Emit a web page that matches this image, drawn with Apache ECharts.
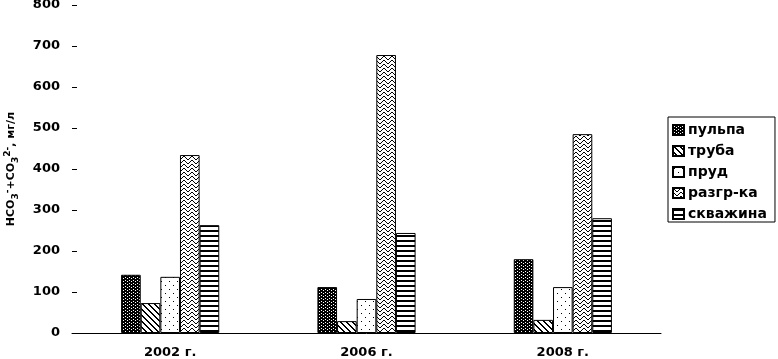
<!DOCTYPE html>
<html><head><meta charset="utf-8">
<script src="https://cdn.jsdelivr.net/npm/echarts@6/dist/echarts.min.js"></script>
<style>html,body{margin:0;padding:0;background:#fff}#c{width:778px;height:359px}</style>
</head><body><div id="c"></div>
<script>
const categories = ['2002 г.', '2006 г.', '2008 г.'];
const seriesNames = ['пульпа', 'труба', 'пруд', 'разгр-ка', 'скважина'];
const pulpa = [142, 112, 180];
const truba = [73, 29, 32];
const prud = [137, 83, 112];
const razgr = [434, 678, 485];
const skvazhina = [263, 244, 280];
const yTicks = [0, 100, 200, 300, 400, 500, 600, 700, 800];

function tile(w, h, draw) {
  const c = document.createElement('canvas');
  c.width = w; c.height = h;
  const g = c.getContext('2d');
  g.fillStyle = '#fff'; g.fillRect(0, 0, w, h);
  g.fillStyle = '#000';
  draw(g);
  return c;
}
const px = (g, x, y) => g.fillRect(x, y, 1, 1);
const patPulpa = tile(4, 3, g => {
  g.fillRect(0, 0, 4, 3);
  g.fillStyle = '#fff';
  px(g, 1, 1); px(g, 3, 2);
});
const patTruba = tile(6, 6, g => {
  for (let i = 0; i < 6; i++) { px(g, i, i); px(g, (i + 1) % 6, i); }
});
const patPrud = tile(8, 8, g => {
  px(g, 1, 1); px(g, 5, 5);
});
const patRazgr = tile(8, 8, g => {
  for (let i = 0; i < 4; i++) { px(g, i, i); px(g, 7 - i, i); px(g, i, i + 4); px(g, 7 - i, i + 4); }
  px(g, 4, 3); px(g, 3, 7);
});
const patSkv = tile(4, 5, g => {
  g.fillRect(0, 0, 4, 2);
});
const pats = [patPulpa, patTruba, patPrud, patRazgr, patSkv];
const data = [pulpa, truba, prud, razgr, skvazhina];
const FONT = 'DejaVu Sans, Verdana, sans-serif';

const chart = echarts.init(document.getElementById('c'));
chart.setOption({
  animation: false,
  textStyle: { fontFamily: FONT },
  grid: { left: 72, right: 117, top: 5, bottom: 26, outerBoundsMode: 'none', containLabel: false },
  legend: {
    orient: 'vertical', left: 668, top: 117,
    data: seriesNames,
    itemWidth: 11, itemHeight: 10, itemGap: 7,
    borderColor: '#000', borderWidth: 1, padding: [6, 8, 1, 4],
    textStyle: { fontFamily: FONT, fontSize: 14, fontWeight: 'bold', color: '#000', padding: [0, 0, 0, -1] },
    icon: 'rect'
  },
  xAxis: {
    type: 'category', data: categories,
    axisLine: { lineStyle: { color: '#000', width: 1 } },
    axisTick: { show: false },
    axisLabel: { fontFamily: FONT, color: '#000', fontSize: 13, fontWeight: 'bold', margin: 13 }
  },
  yAxis: {
    type: 'value', min: yTicks[0], max: yTicks[yTicks.length - 1], interval: 100,
    axisLine: { show: false },
    axisTick: { show: true, inside: true, length: 5, lineStyle: { color: '#000' } },
    splitLine: { show: false },
    axisLabel: { fontFamily: FONT, color: '#000', fontSize: 13, fontWeight: 'bold', margin: 12 },
    name: '{b|HCO}{s|3}{p|-}{b|+CO}{s|3}{p|2-}{b|, мг/л}',
    nameLocation: 'middle', nameGap: 52, nameRotate: 90,
    nameTextStyle: {
      color: '#000',
      rich: {
        b: { fontFamily: FONT, fontSize: 11, fontWeight: 'bold', color: '#000' },
        s: { fontFamily: FONT, fontSize: 9, fontWeight: 'bold', color: '#000', padding: [8, 0, 0, 0] },
        p: { fontFamily: FONT, fontSize: 9, fontWeight: 'bold', color: '#000', padding: [0, 0, 8, 0] }
      }
    }
  },
  series: seriesNames.map((n, i) => ({
    name: n, type: 'bar', data: data[i],
    barGap: '0%', barCategoryGap: '50%',
    itemStyle: { color: { image: pats[i], repeat: 'repeat' }, borderColor: '#000', borderWidth: 1 }
  }))
});
</script></body></html>
